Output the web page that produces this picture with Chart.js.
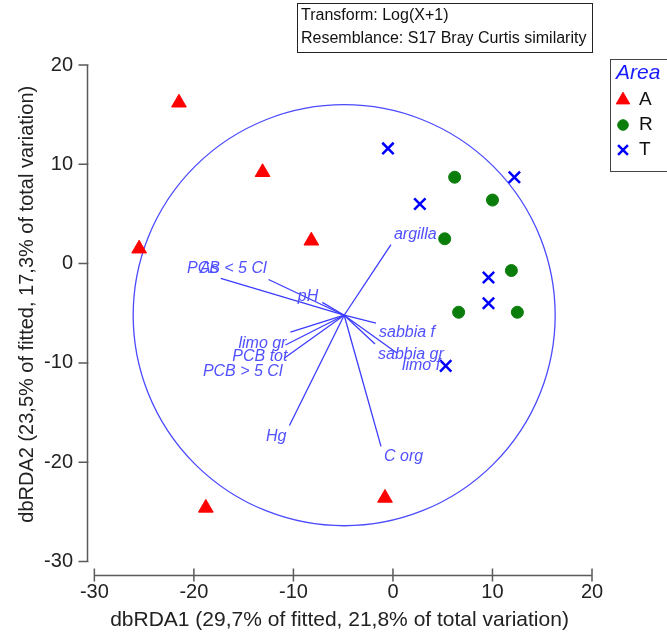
<!DOCTYPE html>
<html>
<head>
<meta charset="utf-8">
<script src="https://cdn.jsdelivr.net/npm/chart.js@4/dist/chart.umd.min.js"></script>
<style>
  html, body { margin: 0; padding: 0; background: #fff; }
</style>
</head>
<body>
<canvas id="rdaChart" width="667" height="637"></canvas>
<script>
// samples per area
const areaA_x = [-21.5, -25.5, -13.1, -8.2, -18.8, -0.8];
const areaA_y = [16.2, 1.5, 9.2, 2.3, -24.6, -23.6];
const areaR_x = [6.2, 10.0, 5.2, 11.9, 6.6, 12.5];
const areaR_y = [8.7, 6.4, 2.5, -0.7, -4.9, -4.9];
const areaT_x = [-0.5, 2.7, 12.2, 9.6, 9.6, 5.3];
const areaT_y = [11.6, 6.0, 8.7, -1.4, -4.0, -10.3];

// predictor vectors
const vecNames = ['As', 'PCB < 5 Cl', 'pH', 'limo gr', 'PCB tot', 'PCB > 5 Cl',
                  'Hg', 'C org', 'argilla', 'sabbia f', 'sabbia gr', 'limo f'];
const vecEndX = [-17.3, -12.5, -7.1, -10.3, -10.8, -10.9, -10.4, -1.2, -0.2, -1.7, -1.8, 0.4];
const vecEndY = [-1.5, -1.6, -3.9, -6.9, -8.2, -9.5, -16.3, -18.4, 1.9, -6.0, -8.1, -9.0];
const vecLabelX = [-17.5, -12.7, -7.5, -10.7, -10.6, -11.1, -10.7, -0.9, 0.1, -1.4, -1.5, 0.9];
const vecLabelY = [-0.5, -0.5, -3.3, -8.1, -9.4, -10.9, -17.4, -19.4, 2.9, -6.9, -9.2, -10.3];
const vecOrigin = [-4.9, -5.2];
const circleRadius = 21.2;

const xTicks = [-30, -20, -10, 0, 10, 20];
const yTicks = [-30, -20, -10, 0, 10, 20];

const FONT = "'Liberation Sans', Arial, sans-serif";
const toPts = (xs, ys) => xs.map((v, i) => ({ x: v, y: ys[i] }));

const markerSets = [
  { label: 'A', data: toPts(areaA_x, areaA_y), pointStyle: 'triangle', pointRadius: 8.5,
    backgroundColor: '#ff0000', borderColor: '#ff0000', pointBorderWidth: 1 },
  { label: 'R', data: toPts(areaR_x, areaR_y), pointStyle: 'circle', pointRadius: 6,
    backgroundColor: '#0a7d0a', borderColor: '#0a7d0a', pointBorderWidth: 1 },
  { label: 'T', data: toPts(areaT_x, areaT_y), pointStyle: 'crossRot', pointRadius: 8,
    backgroundColor: '#0000ff', borderColor: '#0000ff', pointBorderWidth: 2.5 }
];

const vectorSets = vecNames.map((n, i) => ({
  label: n,
  data: [{ x: vecOrigin[0], y: vecOrigin[1] }, { x: vecEndX[i], y: vecEndY[i] }],
  showLine: true,
  borderColor: '#3c3cff',
  borderWidth: 1.3,
  pointRadius: 0
}));

const decor = {
  id: 'decor',
  beforeDatasetsDraw(chart) {
    const { ctx, scales: { x, y } } = chart;
    ctx.save();
    // correlation circle
    const cx = x.getPixelForValue(vecOrigin[0]);
    const cy = y.getPixelForValue(vecOrigin[1]);
    const rx = Math.abs(x.getPixelForValue(vecOrigin[0] + circleRadius) - cx);
    const ry = Math.abs(y.getPixelForValue(vecOrigin[1] + circleRadius) - cy);
    ctx.strokeStyle = '#4a4aff';
    ctx.lineWidth = 1.3;
    ctx.beginPath();
    ctx.ellipse(cx, cy, rx, ry, 0, 0, Math.PI * 2);
    ctx.stroke();

    // axis lines, detached at the corner
    ctx.strokeStyle = '#5a5a5a';
    ctx.lineWidth = 1.5;
    const ax = chart.chartArea.left + 0.5;
    const ay = chart.chartArea.bottom - 0.5;
    ctx.beginPath();
    ctx.moveTo(ax, y.getPixelForValue(yTicks[yTicks.length - 1]));
    ctx.lineTo(ax, y.getPixelForValue(yTicks[0]));
    yTicks.forEach(v => {
      const py = y.getPixelForValue(v);
      ctx.moveTo(ax - 9, py);
      ctx.lineTo(ax + 1, py);
    });
    ctx.moveTo(x.getPixelForValue(xTicks[0]), ay);
    ctx.lineTo(x.getPixelForValue(xTicks[xTicks.length - 1]), ay);
    xTicks.forEach(v => {
      const px = x.getPixelForValue(v);
      ctx.moveTo(px, ay - 7);
      ctx.lineTo(px, ay + 6);
    });
    ctx.stroke();

    // y axis title, centred on the tick range
    const ty = (y.getPixelForValue(yTicks[0]) + y.getPixelForValue(yTicks[yTicks.length - 1])) / 2 - 9;
    ctx.translate(27, ty);
    ctx.rotate(-Math.PI / 2);
    ctx.fillStyle = '#222';
    ctx.font = '20px ' + FONT;
    ctx.textAlign = 'center';
    ctx.textBaseline = 'middle';
    ctx.fillText('dbRDA2 (23,5% of fitted, 17,3% of total variation)', 0, 0);
    ctx.restore();
  },
  afterDatasetsDraw(chart) {
    const { ctx, scales: { x, y } } = chart;
    ctx.save();
    ctx.font = 'italic 16px ' + FONT;
    ctx.fillStyle = '#5050ff';
    ctx.textBaseline = 'middle';
    vecNames.forEach((n, i) => {
      ctx.textAlign = vecEndX[i] < vecOrigin[0] ? 'right' : 'left';
      ctx.fillText(n, x.getPixelForValue(vecLabelX[i]), y.getPixelForValue(vecLabelY[i]));
    });
    ctx.restore();
  },
  afterDraw(chart) {
    const { ctx } = chart;
    ctx.save();
    // info box
    ctx.strokeStyle = '#222';
    ctx.lineWidth = 1;
    ctx.strokeRect(297.5, 3.5, 295, 49);
    ctx.fillStyle = '#111';
    ctx.font = '16px ' + FONT;
    ctx.textBaseline = 'middle';
    ctx.textAlign = 'left';
    ctx.fillText('Transform: Log(X+1)', 301, 16);
    ctx.fillText('Resemblance: S17 Bray Curtis similarity', 301, 39);

    // legend
    ctx.strokeStyle = '#444';
    ctx.strokeRect(610.5, 59.5, 80, 112);
    ctx.fillStyle = '#1a1aff';
    ctx.font = 'italic 21px ' + FONT;
    ctx.fillText('Area', 616, 73);
    ctx.font = '19px ' + FONT;
    markerSets.forEach((ds, i) => {
      const ly = 100 + i * 25;
      ctx.fillStyle = ds.backgroundColor;
      ctx.strokeStyle = ds.borderColor;
      ctx.lineWidth = ds.pointBorderWidth;
      Chart.helpers.drawPoint(ctx, {
        pointStyle: ds.pointStyle,
        radius: ds.pointStyle === 'crossRot' ? 7 : ds.pointRadius - 0.7,
        borderWidth: ds.pointBorderWidth, rotation: 0
      }, 623, ly);
      ctx.fillStyle = '#111';
      ctx.fillText(ds.label, 639, ly);
    });
    ctx.restore();
  }
};

const tickFont = { family: FONT, size: 20 };
const titleFont = { family: FONT, size: 21 };

new Chart(document.getElementById('rdaChart'), {
  type: 'scatter',
  data: { datasets: [...markerSets, ...vectorSets] },
  options: {
    responsive: false,
    animation: false,
    devicePixelRatio: 1,
    layout: { padding: { top: 65, right: 75, left: 0, bottom: 0 } },
    plugins: { legend: { display: false }, tooltip: { enabled: false } },
    scales: {
      x: {
        type: 'linear', min: -30.74, max: 20,
        grid: { display: false, drawTicks: false },
        border: { display: false },
        afterBuildTicks: s => { s.ticks = xTicks.map(v => ({ value: v })); },
        afterFit: s => { s.height = 61; },
        ticks: { font: tickFont, color: '#222', padding: 4, maxRotation: 0, autoSkip: false },
        title: {
          display: true, color: '#222', font: titleFont,
          text: 'dbRDA1 (29,7% of fitted, 21,8% of total variation)',
          padding: { top: 0, bottom: 4 }
        }
      },
      y: {
        type: 'linear', min: -31.46, max: 20,
        grid: { display: false, drawTicks: false },
        border: { display: false },
        afterBuildTicks: s => { s.ticks = yTicks.map(v => ({ value: v })); },
        afterFit: s => { s.width = 87; },
        ticks: { font: tickFont, color: '#222', padding: 14, autoSkip: false },
        title: { display: false }
      }
    }
  },
  plugins: [decor]
});
</script>
</body>
</html>
